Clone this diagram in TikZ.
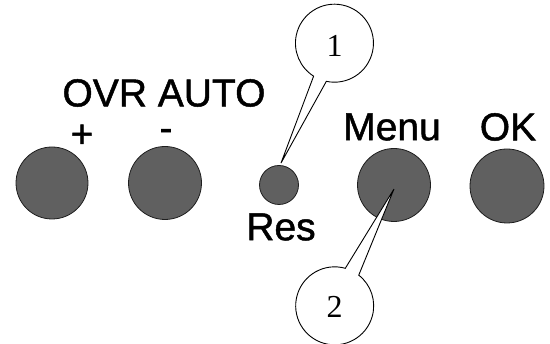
\documentclass[tikz,border=0pt]{standalone}
\usepackage{fontspec}
\setmainfont[FakeBold=1.2]{Liberation Sans}
\newfontfamily\serifnum{Liberation Serif}
\definecolor{btn}{RGB}{96,96,96}
\definecolor{btnedge}{RGB}{30,30,30}
\begin{document}
\begin{tikzpicture}[x=1pt,y=1pt,
  button/.style={circle,fill=btn,draw=btnedge,line width=0.8pt,inner sep=0pt},
  lbl/.style={inner sep=0pt,font=\fontsize{39}{41}\selectfont},
  callout/.style={circle,inner sep=0pt,minimum size=78pt},
  numlbl/.style={inner sep=0pt,font=\serifnum\fontsize{32}{34}\selectfont},
  calloutshape/.style={fill=white,draw=black,line width=0.9pt,line join=miter}]
\useasboundingbox (0,0) rectangle (550,344);
% buttons
\node[button,minimum size=72pt] (plus) at (52,161) {};
\node[button,minimum size=73pt] (minus) at (165,161) {};
\node[button,minimum size=39pt] (res) at (279,159) {};
\node[button,minimum size=73pt] (menu) at (394,159) {};
\node[button,minimum size=74pt] (ok) at (507,158) {};
% labels
\node[lbl] (ovrauto) at (164,251) {OVR AUTO};
\node[lbl] (plbl) at (82,208) {+};
\node[lbl] (mlbl) at (166,209) {-};
\node[lbl] (reslbl) at (281,117) {Res};
\node[lbl] (menulbl) at (392,217) {Menu};
\node[lbl] (oklbl) at (508,217) {OK};
% callouts
\node[callout] (c1) at (334.5,301) {};
\node[callout] (c2) at (334.5,38) {};
\coordinate (t1) at ([shift={(2,2)}]res.north);
\coordinate (t2) at ([shift={(0,-4)}]menu.center);
\draw[calloutshape] (c1.258) arc[start angle=258,end angle=597.7,radius=39pt] -- (t1) -- cycle;
\draw[calloutshape] (c2.74.2) arc[start angle=74.2,end angle=411.9,radius=39pt] -- (t2) -- cycle;
\node[numlbl] (n1) at ([yshift=-3pt]c1.center) {1};
\node[numlbl] (n2) at ([yshift=-1pt]c2.center) {2};
\end{tikzpicture}
\end{document}
